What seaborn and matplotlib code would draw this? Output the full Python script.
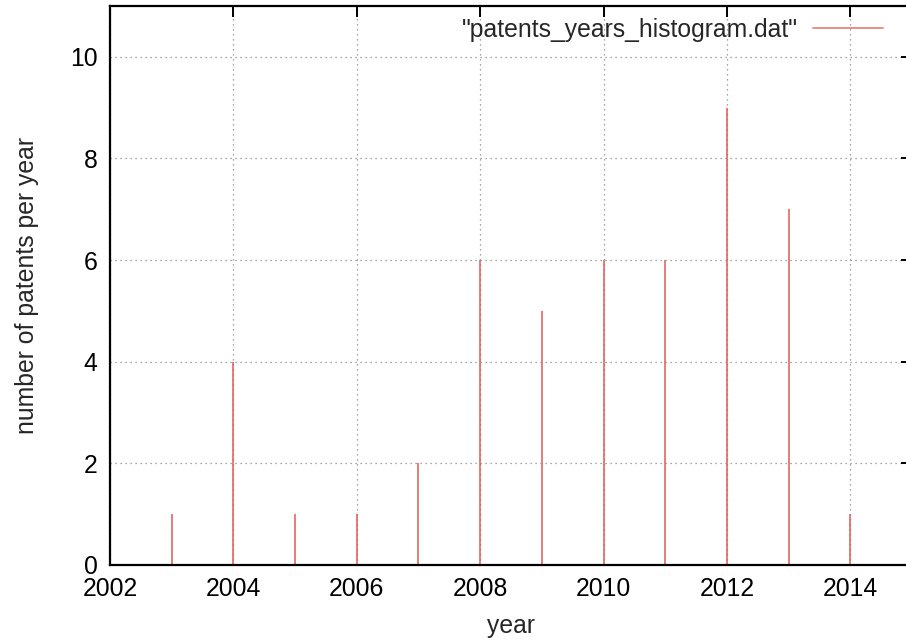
import numpy as np
import pandas as pd
import seaborn as sns
import matplotlib.pyplot as plt
from matplotlib.lines import Line2D

# patents per year
years = [2003, 2004, 2005, 2006, 2007, 2008, 2009, 2010, 2011, 2012, 2013, 2014]
counts = [1, 4, 1, 1, 2, 6, 5, 6, 6, 9, 7, 1]
x_ticks = [2002, 2004, 2006, 2008, 2010, 2012, 2014]
y_ticks = [0, 2, 4, 6, 8, 10]
legend_label = '"patents_years_histogram.dat"'

df = pd.DataFrame({"year": years, "count": counts})

sns.set_style("white")
plt.rcParams['font.family'] = ['Liberation Sans', 'DejaVu Sans']
fs = 17.8

fig = plt.figure(figsize=(9.06, 6.42), dpi=100)
# gnuplot frame runs slightly past the right edge of the picture
ax = fig.add_axes([110 / 906, 1 - 565 / 642, 802 / 906, 559 / 642])

imp_color = '#e05a55'
ax.vlines(df["year"], 0, df["count"], color=imp_color, lw=1.1, zorder=2)

ax.set_xlim(2002, 2015)
ax.set_ylim(0, 11)
ax.set_xticks(x_ticks)
ax.set_yticks(y_ticks)
ax.grid(True, ls=(0, (1, 3)), color='#888888', lw=0.9, zorder=0)
ax.set_axisbelow(True)

for s in ax.spines.values():
    s.set_visible(True)
    s.set_color('black')
    s.set_linewidth(1.6)

ax.tick_params(direction='in', length=8, width=1.4, top=True, right=True,
               labelsize=fs, pad=9, colors='black', zorder=5)
ax.set_xlabel('year', fontsize=fs, labelpad=9)
ax.set_ylabel('number of patents per year', fontsize=fs, labelpad=22)

handle = Line2D([], [], color='#e89080', lw=1.4)
ax.legend([handle], [legend_label], loc='center right',
          bbox_to_anchor=(883 / 906, 1 - 30 / 642), bbox_transform=fig.transFigure,
          frameon=False, fontsize=fs, handlelength=2.83, handletextpad=0.6,
          markerfirst=False, borderaxespad=0, borderpad=0)

fig.savefig('out.png', dpi=100)
